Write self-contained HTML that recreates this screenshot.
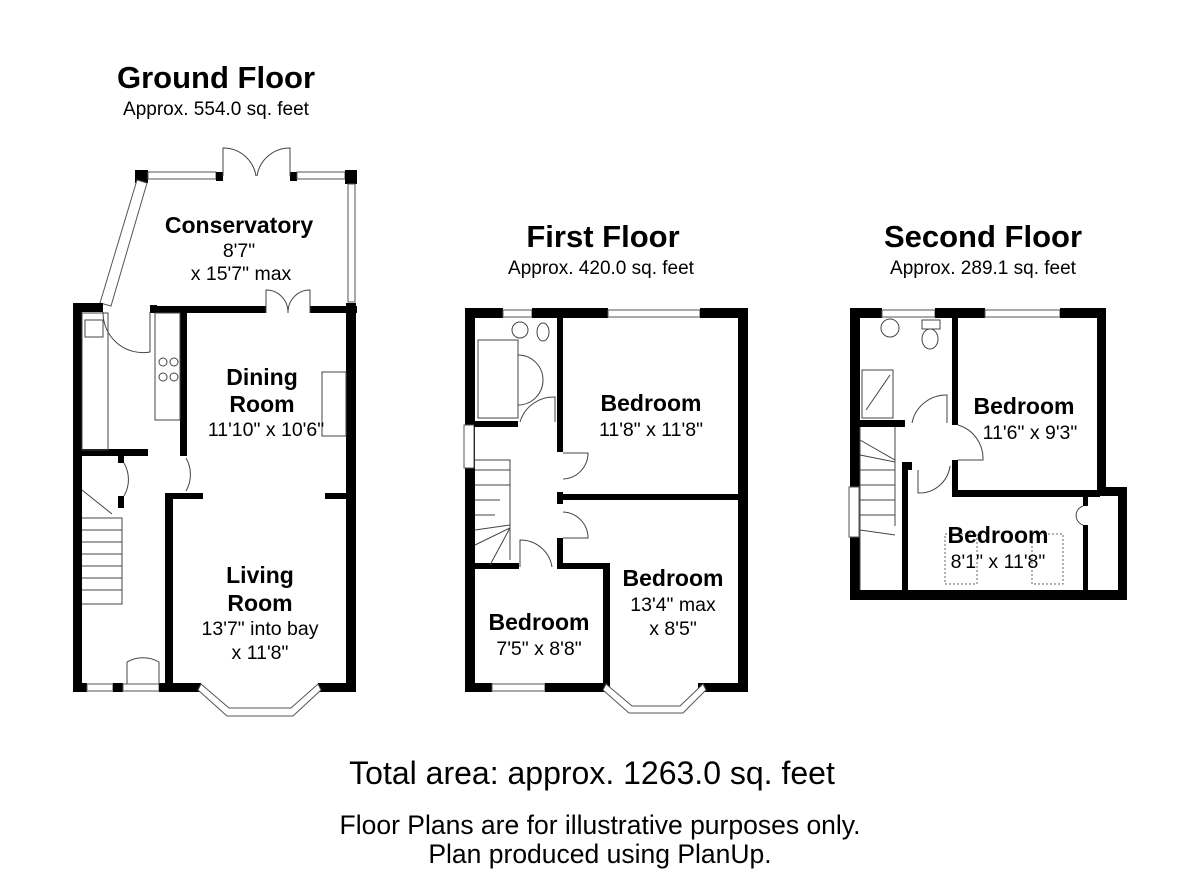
<!DOCTYPE html>
<html><head><meta charset="utf-8"><style>
html,body{margin:0;padding:0;background:#fff;}
svg{display:block;}
text{font-family:"Liberation Sans",Arial,sans-serif;fill:#000;}
.t{font-size:31px;font-weight:bold;}
.a{font-size:19px;}
.r{font-size:23px;font-weight:bold;}
.d{font-size:19.5px;}
.w{fill:#000;}
.win{fill:#fff;stroke:#555;stroke-width:1;}
.ln{fill:none;stroke:#444;stroke-width:1;}
</style></head><body>
<svg width="1200" height="873" viewBox="0 0 1200 873" xmlns="http://www.w3.org/2000/svg">
<text class="t" x="216" y="88" text-anchor="middle">Ground Floor</text>
<text class="a" x="216" y="115" text-anchor="middle">Approx. 554.0 sq. feet</text>
<text class="t" x="603" y="247" text-anchor="middle">First Floor</text>
<text class="a" x="601" y="274" text-anchor="middle">Approx. 420.0 sq. feet</text>
<text class="t" x="983" y="247" text-anchor="middle">Second Floor</text>
<text class="a" x="983" y="274" text-anchor="middle">Approx. 289.1 sq. feet</text>

<!-- GROUND FLOOR -->
<g>
<rect class="w" x="135" y="170" width="13" height="13"/>
<rect class="win" x="148" y="172" width="68" height="7"/>
<rect class="w" x="216" y="172" width="7" height="9"/>
<rect class="w" x="290" y="172" width="7" height="9"/>
<rect class="win" x="297" y="172" width="48" height="7"/>
<rect class="w" x="345" y="170" width="12" height="14"/>
<rect class="win" x="348" y="184" width="7" height="118"/>
<polygon class="win" points="137,180 147,183 111,306 100,303"/>
<path class="ln" d="M223,176 L223,148 A33,33 0 0 1 256,176 M290,176 L290,148 A33,33 0 0 0 257,176"/>
<rect class="w" x="73" y="303" width="9" height="389"/>
<rect class="w" x="73" y="303" width="30" height="9"/>
<rect class="w" x="150" y="305" width="7" height="8"/>
<rect class="w" x="150" y="306" width="36" height="7"/>
<rect class="w" x="186" y="306" width="80" height="7"/>
<rect class="w" x="310" y="306" width="47" height="7"/>
<rect class="w" x="346" y="303" width="10" height="389"/>
<rect class="w" x="180" y="306" width="7" height="150"/>
<rect class="w" x="82" y="449" width="66" height="7"/>
<rect class="w" x="118" y="449" width="6" height="14"/>
<rect class="w" x="118" y="496" width="6" height="12"/>
<rect class="w" x="165" y="493" width="8" height="199"/>
<rect class="w" x="165" y="493" width="38" height="6"/>
<rect class="w" x="325" y="493" width="31" height="6"/>
<rect class="w" x="73" y="683" width="14" height="9"/>
<rect class="win" x="87" y="684" width="26" height="7"/>
<rect class="w" x="113" y="683" width="10" height="9"/>
<rect class="win" x="123" y="684" width="36" height="7"/>
<rect class="w" x="159" y="683" width="42" height="9"/>
<rect class="w" x="318" y="683" width="38" height="9"/>
<polygon class="win" points="201,684 229,708 291,708 318,684 321,690 293,716 227,716 198,690"/>
<path class="ln" d="M103,312 A40,40 0 0 0 150,352 L150,312 M266,313 L266,290 A22,22 0 0 1 288,313 M310,313 L310,290 A22,22 0 0 0 288,313 M124,463 A33,33 0 0 1 124,496 M186,458 A33,33 0 0 1 186,491 M159,684 L159,662 A32,32 0 0 0 127,662 L127,684"/>
<rect class="ln" x="82" y="313" width="26" height="137"/>
<rect class="ln" x="85" y="320" width="18" height="17"/>
<rect class="ln" x="155" y="313" width="25" height="107"/>
<circle class="ln" cx="163" cy="362" r="4"/><circle class="ln" cx="174" cy="362" r="4"/>
<circle class="ln" cx="163" cy="377" r="4"/><circle class="ln" cx="174" cy="377" r="4"/>
<rect class="ln" x="322" y="372" width="24" height="64"/>
<path class="ln" d="M82,518 L122,518 L122,604 L82,604 M82,530 H122 M82,542 H122 M82,554 H122 M82,566 H122 M82,578 H122 M82,590 H122 M82,490 L112,514"/>
</g>
<text class="r" x="239" y="233" text-anchor="middle">Conservatory</text>
<text class="d" x="239" y="257" text-anchor="middle">8'7"</text>
<text class="d" x="241" y="280" text-anchor="middle">x 15'7" max</text>
<text class="r" x="262" y="385" text-anchor="middle">Dining</text>
<text class="r" x="262" y="412" text-anchor="middle">Room</text>
<text class="d" x="266" y="436" text-anchor="middle">11'10" x 10'6"</text>
<text class="r" x="260" y="583" text-anchor="middle">Living</text>
<text class="r" x="260" y="611" text-anchor="middle">Room</text>
<text class="d" x="260" y="635" text-anchor="middle">13'7" into bay</text>
<text class="d" x="260" y="659" text-anchor="middle">x 11'8"</text>

<!-- FIRST FLOOR -->
<g>
<rect class="w" x="465" y="308" width="10" height="384"/>
<rect class="w" x="465" y="308" width="38" height="10"/>
<rect class="win" x="503" y="310" width="29" height="7"/>
<rect class="w" x="532" y="308" width="76" height="10"/>
<rect class="win" x="608" y="310" width="92" height="7"/>
<rect class="w" x="700" y="308" width="48" height="10"/>
<rect class="w" x="738" y="308" width="10" height="384"/>
<rect class="win" x="464" y="425" width="10" height="43"/>
<rect class="w" x="557" y="318" width="6" height="134"/>
<rect class="w" x="474" y="421" width="44" height="6"/>
<rect class="w" x="557" y="494" width="191" height="6"/>
<rect class="w" x="557" y="492" width="6" height="12"/>
<rect class="w" x="557" y="538" width="6" height="30"/>
<rect class="w" x="557" y="563" width="53" height="6"/>
<rect class="w" x="603" y="563" width="7" height="129"/>
<rect class="w" x="474" y="563" width="45" height="6"/>
<rect class="w" x="465" y="683" width="27" height="9"/>
<rect class="win" x="492" y="684" width="53" height="7"/>
<rect class="w" x="545" y="683" width="60" height="9"/>
<rect class="w" x="698" y="683" width="50" height="9"/>
<polygon class="win" points="606,684 632,706 680,706 703,684 706,690 683,713 629,713 603,690"/>
<path class="ln" d="M520,422 A35,35 0 0 1 555,397 L555,422 M563,453 L588,453 A26,26 0 0 1 563,479 M563,538 L588,538 A26,26 0 0 0 563,512 M520,567 L520,540 A32,32 0 0 1 552,567"/>
<rect class="ln" x="478" y="340" width="40" height="78"/>
<path class="ln" d="M518,355 A24,24 0 0 1 518,405"/>
<circle class="ln" cx="520" cy="330" r="8"/>
<ellipse class="ln" cx="543" cy="332" rx="6" ry="9"/>
<path class="ln" d="M475,460 H510 V560 M475,470 H510 M475,485 H510 M475,500 H500 M475,515 H495 M475,530 L510,525 M475,545 L510,528 M490,565 L510,528"/>
</g>
<text class="r" x="651" y="411" text-anchor="middle">Bedroom</text>
<text class="d" x="651" y="436" text-anchor="middle">11'8" x 11'8"</text>
<text class="r" x="673" y="586" text-anchor="middle">Bedroom</text>
<text class="d" x="673" y="611" text-anchor="middle">13'4" max</text>
<text class="d" x="673" y="635" text-anchor="middle">x 8'5"</text>
<text class="r" x="539" y="630" text-anchor="middle">Bedroom</text>
<text class="d" x="539" y="655" text-anchor="middle">7'5" x 8'8"</text>

<!-- SECOND FLOOR -->
<g>
<rect class="w" x="850" y="308" width="10" height="292"/>
<rect class="w" x="850" y="308" width="32" height="10"/>
<rect class="win" x="882" y="310" width="53" height="7"/>
<rect class="w" x="935" y="308" width="50" height="10"/>
<rect class="win" x="985" y="310" width="75" height="7"/>
<rect class="w" x="1060" y="308" width="46" height="10"/>
<rect class="w" x="1097" y="308" width="9" height="187"/>
<rect class="w" x="1097" y="487" width="30" height="9"/>
<rect class="w" x="1118" y="487" width="9" height="113"/>
<rect class="w" x="850" y="590" width="277" height="10"/>
<rect class="win" x="849" y="487" width="10" height="50"/>
<rect class="w" x="952" y="318" width="6" height="107"/>
<rect class="w" x="952" y="460" width="6" height="37"/>
<rect class="w" x="952" y="490" width="148" height="7"/>
<rect class="w" x="860" y="420" width="45" height="7"/>
<rect class="w" x="902" y="462" width="10" height="8"/>
<rect class="w" x="902" y="462" width="6" height="128"/>
<rect class="w" x="1083" y="497" width="5" height="9"/>
<rect class="w" x="1083" y="525" width="5" height="65"/>
<path class="ln" d="M912,423 A35,35 0 0 1 947,395 L947,423 M958,425 A35,35 0 0 1 983,460 L958,460 M918,470 L918,493 A31,31 0 0 0 950,466 M1083,506 A10,10 0 0 0 1083,525"/>
<rect class="ln" x="862" y="370" width="31" height="48"/>
<path class="ln" d="M866,410 L890,375"/>
<circle class="ln" cx="890" cy="328" r="9"/>
<ellipse class="ln" cx="930" cy="339" rx="8" ry="10"/>
<rect class="ln" x="922" y="320" width="18" height="9"/>
<rect x="945" y="534" width="32" height="50" fill="none" stroke="#666" stroke-dasharray="2,2"/>
<rect x="1032" y="534" width="31" height="50" fill="none" stroke="#666" stroke-dasharray="2,2"/>
<path class="ln" d="M860,427 V590 M860,440 L895,460 M860,455 L895,462 M860,470 H895 M860,485 H895 M860,500 H895 M860,515 H895 M860,530 L895,535 M895,427 V526"/>
</g>
<text class="r" x="1024" y="414" text-anchor="middle">Bedroom</text>
<text class="d" x="1030" y="439" text-anchor="middle">11'6" x 9'3"</text>
<text class="r" x="998" y="543" text-anchor="middle">Bedroom</text>
<text class="d" x="998" y="568" text-anchor="middle">8'1" x 11'8"</text>

<text x="592" y="784" text-anchor="middle" style="font-size:32px">Total area: approx. 1263.0 sq. feet</text>
<text x="600" y="834" text-anchor="middle" style="font-size:26.5px">Floor Plans are for illustrative purposes only.</text>
<text x="600" y="863" text-anchor="middle" style="font-size:26.5px">Plan produced using PlanUp.</text>
</svg>
</body></html>
